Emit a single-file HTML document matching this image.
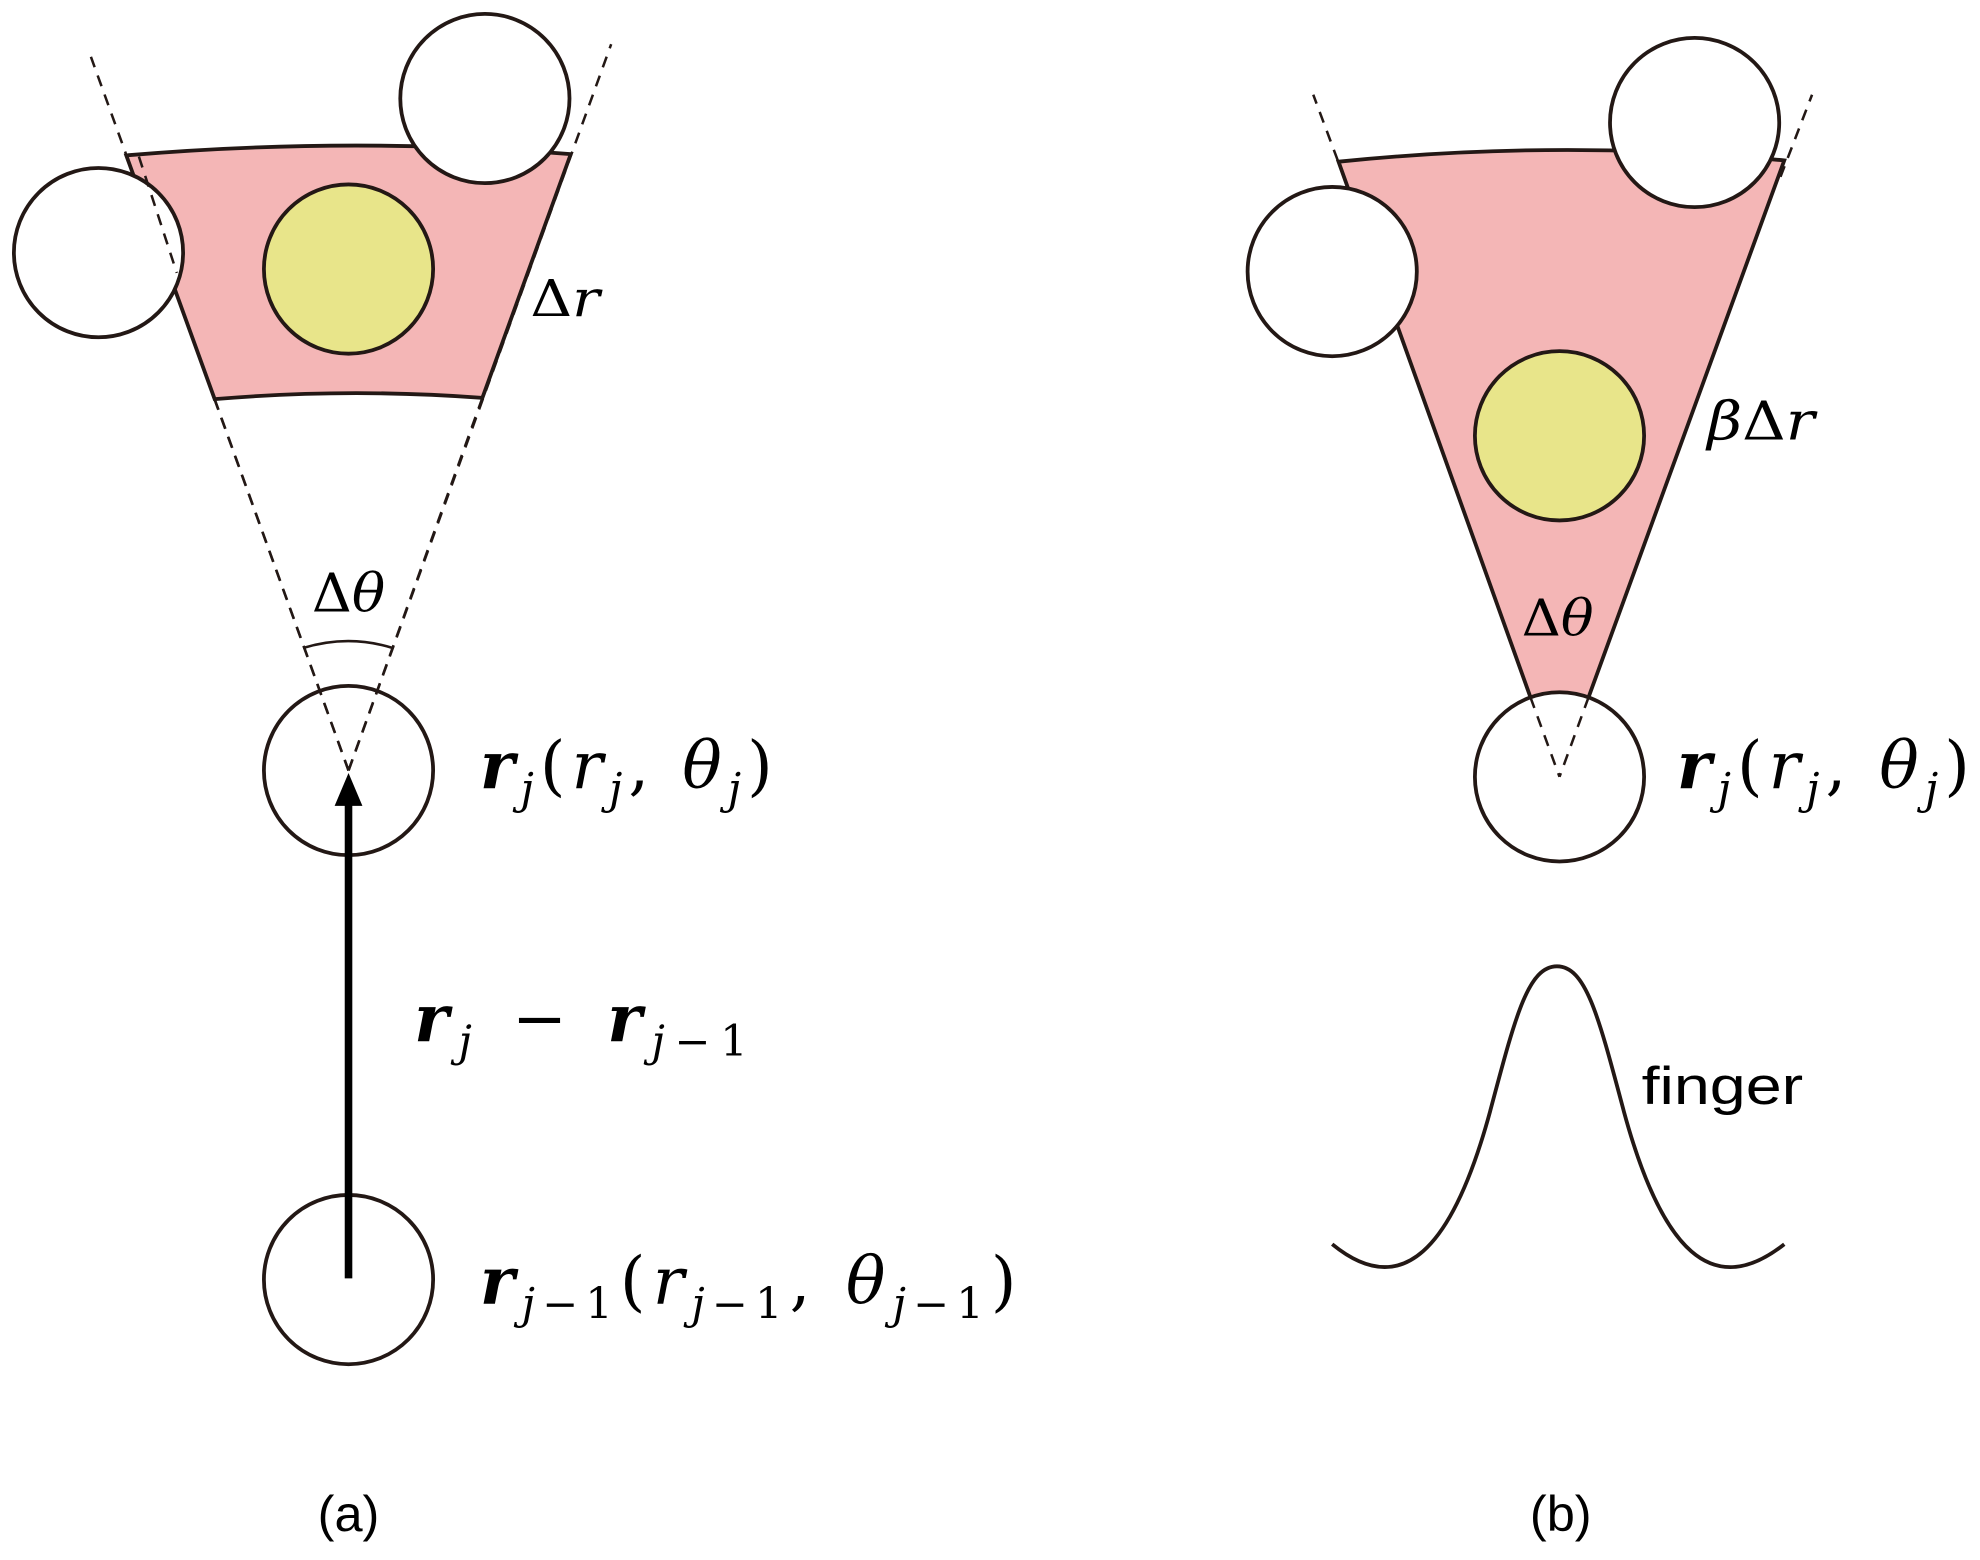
<!DOCTYPE html>
<html><head><meta charset="utf-8"><style>
html,body{margin:0;padding:0;background:#fff}
svg{display:block}
.m{font-family:"DejaVu Serif","Liberation Serif",serif;font-style:italic}
.u{font-style:normal}
.b{font-weight:bold}
.s{font-family:"Liberation Sans",sans-serif}
</style></head><body>
<svg width="1980" height="1560" viewBox="0 0 1568 1235" preserveAspectRatio="none" xmlns="http://www.w3.org/2000/svg">
<rect width="1568" height="1235" fill="#fff"/>
<g stroke="#231815" stroke-width="2" fill="none" stroke-dasharray="9,7">
<line x1="276" y1="610" x2="72" y2="45"/>
<line x1="276" y1="610" x2="484" y2="35"/>
</g>
<path d="M100,123 Q276,108 452,122 L382,315 Q276,307 170,316 Z" fill="#f4b6b6" stroke="#231815" stroke-width="3"/>
<circle cx="78" cy="200" r="67" fill="#fff" stroke="#231815" stroke-width="3"/>
<circle cx="384" cy="78" r="67" fill="#fff" stroke="#231815" stroke-width="3"/>
<circle cx="276" cy="213" r="67" fill="#e8e58a" stroke="#231815" stroke-width="3"/>
<g stroke="#231815" stroke-width="2" fill="none" stroke-dasharray="9,7">
<line x1="110" y1="124" x2="140" y2="216"/>
<line x1="170" y1="316" x2="276" y2="610"/>
<line x1="382" y1="315" x2="276" y2="610"/>
</g>
<text x="420" y="250" class="m" font-size="40" textLength="55" lengthAdjust="spacingAndGlyphs"><tspan class="u">Δ</tspan>r</text>
<text x="247" y="484" class="m" font-size="42" textLength="58" lengthAdjust="spacingAndGlyphs"><tspan class="u">Δ</tspan>θ</text>
<path d="M240,513 Q276,502 311,513" stroke="#231815" stroke-width="2" fill="none"/>
<circle cx="276" cy="610" r="67" fill="none" stroke="#231815" stroke-width="3"/>
<circle cx="276" cy="1013" r="67" fill="#fff" stroke="#231815" stroke-width="3"/>
<line x1="276" y1="1012" x2="276" y2="636" stroke="#000" stroke-width="6"/>
<polygon points="276,612 265,638 287,638" fill="#000"/>
<text x="380" y="624" class="m" font-size="52" textLength="232" lengthAdjust="spacing"><tspan class="b">r</tspan><tspan font-size="34" dy="12">j</tspan><tspan class="u" dy="-12">(</tspan>r<tspan font-size="34" dy="12">j</tspan><tspan class="u" dy="-12">, </tspan>θ<tspan font-size="34" dy="12">j</tspan><tspan class="u" dy="-12">)</tspan></text>
<text x="328" y="824" class="m" font-size="52" textLength="264" lengthAdjust="spacing"><tspan class="b">r</tspan><tspan font-size="34" dy="12">j</tspan><tspan class="u" dy="-12"> − </tspan><tspan class="b">r</tspan><tspan font-size="34" dy="12">j<tspan class="u">−1</tspan></tspan></text>
<text x="380" y="1032" class="m" font-size="52" textLength="425" lengthAdjust="spacing"><tspan class="b">r</tspan><tspan font-size="34" dy="12">j<tspan class="u">−1</tspan></tspan><tspan class="u" dy="-12">(</tspan>r<tspan font-size="34" dy="12">j<tspan class="u">−1</tspan></tspan><tspan class="u" dy="-12">, </tspan>θ<tspan font-size="34" dy="12">j<tspan class="u">−1</tspan></tspan><tspan class="u" dy="-12">)</tspan></text>
<text x="276" y="1212" class="s" font-size="40" text-anchor="middle">(a)</text>

<g stroke="#231815" stroke-width="2" fill="none" stroke-dasharray="9,7">
<line x1="1065" y1="142" x2="1040" y2="75"/>
<line x1="1410" y1="140" x2="1435" y2="75"/>
</g>
<path d="M1060,128 Q1236,110 1413,127 L1258,552 L1212,552 Z" fill="#f4b6b6" stroke="#231815" stroke-width="3"/>
<circle cx="1055" cy="215" r="67" fill="#fff" stroke="#231815" stroke-width="3"/>
<circle cx="1342" cy="97" r="67" fill="#fff" stroke="#231815" stroke-width="3"/>
<circle cx="1235" cy="345" r="67" fill="#e8e58a" stroke="#231815" stroke-width="3"/>
<circle cx="1235" cy="615" r="67" fill="#fff" stroke="#231815" stroke-width="3"/>
<g stroke="#231815" stroke-width="2" fill="none" stroke-dasharray="9,7">
<line x1="1212" y1="552" x2="1235" y2="615"/>
<line x1="1258" y1="552" x2="1235" y2="615"/>
</g>
<text x="1352" y="348" class="m" font-size="42" textLength="85" lengthAdjust="spacingAndGlyphs">β<tspan class="u">Δ</tspan>r</text>
<text x="1205" y="503" class="m" font-size="40" textLength="57" lengthAdjust="spacingAndGlyphs"><tspan class="u">Δ</tspan>θ</text>
<text x="1328" y="624" class="m" font-size="52" textLength="232" lengthAdjust="spacing"><tspan class="b">r</tspan><tspan font-size="34" dy="12">j</tspan><tspan class="u" dy="-12">(</tspan>r<tspan font-size="34" dy="12">j</tspan><tspan class="u" dy="-12">, </tspan>θ<tspan font-size="34" dy="12">j</tspan><tspan class="u" dy="-12">)</tspan></text>
<path d="M1055,985 C1110,1030 1150,990 1180,880 C1200,805 1210,765 1233,765 C1256,765 1266,805 1286,880 C1316,990 1356,1030 1413,985" fill="none" stroke="#231815" stroke-width="3"/>
<text x="1300" y="874" class="s" font-size="42" textLength="128" lengthAdjust="spacingAndGlyphs">finger</text>
<text x="1236" y="1212" class="s" font-size="40" text-anchor="middle">(b)</text>
</svg>
</body></html>
